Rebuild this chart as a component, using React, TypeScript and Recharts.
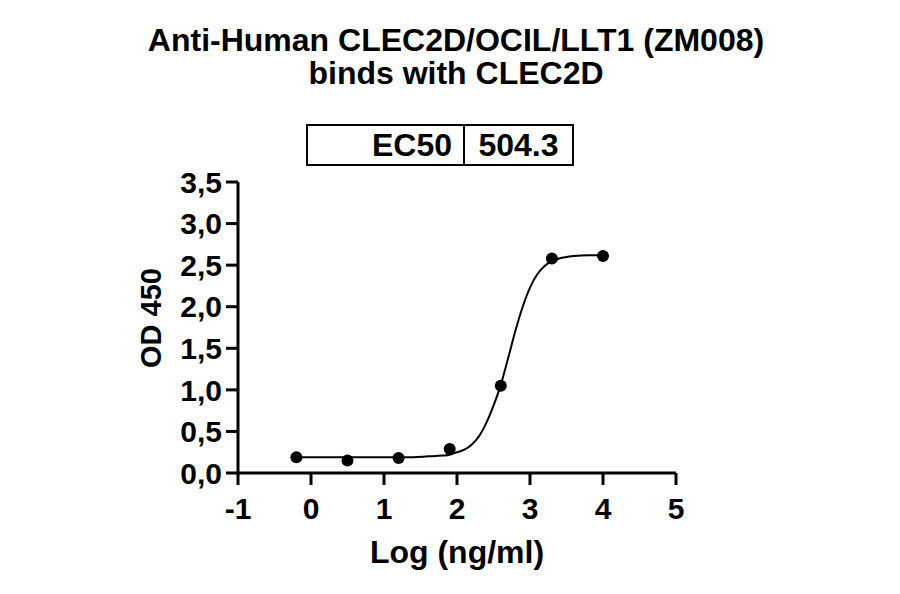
import { ComposedChart, Line, Scatter, XAxis, YAxis } from "recharts";

// log10 concentration (ng/ml) and measured OD 450
const logConc = [-0.2, 0.5, 1.2, 1.9, 2.6, 3.3, 4.0];
const od450 = [0.19, 0.15, 0.18, 0.29, 1.05, 2.58, 2.61];

// fitted curve
const fitX = [-0.2, 0.5, 1.0, 1.4, 1.6, 1.8, 1.9, 2.0, 2.1, 2.2, 2.3, 2.4, 2.5, 2.6, 2.7, 2.8, 2.9, 3.0, 3.1, 3.2, 3.3, 3.4, 3.6, 3.8, 4.0];
const fitY = [0.19, 0.19, 0.19, 0.19, 0.2, 0.21, 0.22, 0.25, 0.28, 0.34, 0.44, 0.6, 0.81, 1.06, 1.38, 1.71, 2.0, 2.23, 2.39, 2.49, 2.55, 2.58, 2.61, 2.62, 2.62];

const xTicks = [-1, 0, 1, 2, 3, 4, 5];
const yTicks = [0, 0.5, 1, 1.5, 2, 2.5, 3, 3.5];

const ec50 = "504.3";

const points = logConc.map((x, i) => ({ x, y: od450[i] }));
const curve = fitX.map((x, i) => ({ x, y: fitY[i] }));

const FONT = '"Liberation Sans", Arial, sans-serif';
const tickStyle = { fontSize: 30, fontWeight: 700, fill: "#000", fontFamily: FONT };

const Dot = (props: any) => <circle cx={props.cx} cy={props.cy} r={6} fill="#000" />;

// y axis title, placed a little above the plot centre as in the original
const YTitle = () => (
  <text
    x={151}
    y={318}
    transform="rotate(-90 151 318)"
    textAnchor="middle"
    dominantBaseline="central"
    style={{ fontSize: 29, fontWeight: 700, fill: "#000", fontFamily: FONT }}
  >
    OD 450
  </text>
);

export default function App() {
  return (
    <div style={{ position: "absolute", left: 0, top: 0, width: 900, height: 594, background: "#fff", fontFamily: FONT }}>
      <div
        style={{
          position: "absolute",
          left: 0,
          top: 24,
          width: 912,
          textAlign: "center",
          fontSize: 32,
          fontWeight: 700,
          lineHeight: "33px",
        }}
      >
        Anti-Human CLEC2D/OCIL/LLT1 (ZM008)
        <br />
        binds with CLEC2D
      </div>

      <div
        style={{
          position: "absolute",
          left: 306,
          top: 124,
          width: 268,
          height: 42,
          boxSizing: "border-box",
          border: "2px solid #000",
          display: "flex",
          fontSize: 32,
          fontWeight: 700,
        }}
      >
        <div style={{ width: 155, display: "flex", alignItems: "center", justifyContent: "flex-end", paddingRight: 11, boxSizing: "border-box" }}>
          EC50
        </div>
        <div style={{ flex: 1, borderLeft: "2px solid #000", display: "flex", alignItems: "center", justifyContent: "center" }}>
          {ec50}
        </div>
      </div>

      <ComposedChart width={900} height={594} margin={{ top: 182, right: 224, bottom: 21, left: 138 }}>
        <XAxis
          type="number"
          dataKey="x"
          domain={[-1, 5]}
          ticks={xTicks}
          allowDataOverflow
          height={100}
          tickSize={12}
          tickMargin={13}
          axisLine={{ stroke: "#000", strokeWidth: 3 }}
          tickLine={{ stroke: "#000", strokeWidth: 3 }}
          tick={tickStyle}
          label={{
            value: "Log (ng/ml)",
            position: "insideBottom",
            offset: 10,
            style: { fontSize: 32, fontWeight: 700, fill: "#000", fontFamily: FONT },
          }}
        />
        <YAxis
          type="number"
          dataKey="y"
          domain={[0, 3.5]}
          ticks={yTicks}
          allowDataOverflow
          width={100}
          tickSize={12}
          tickMargin={4}
          axisLine={{ stroke: "#000", strokeWidth: 3 }}
          tickLine={{ stroke: "#000", strokeWidth: 3 }}
          tick={tickStyle}
          tickFormatter={(v: number) => v.toFixed(1).replace(".", ",")}
          label={{ content: YTitle }}
        />
        <Line
          data={curve}
          dataKey="y"
          type="monotone"
          stroke="#000"
          strokeWidth={2}
          dot={false}
          activeDot={false}
          isAnimationActive={false}
        />
        <Scatter data={points} dataKey="y" fill="#000" shape={Dot} isAnimationActive={false} />
      </ComposedChart>
    </div>
  );
}
